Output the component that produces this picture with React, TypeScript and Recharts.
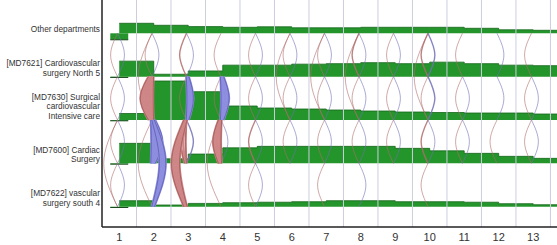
import { ComposedChart, XAxis, YAxis, Area, Line, ReferenceLine } from "recharts";

const FONT = "'Liberation Sans', Arial, sans-serif";

// lanes, bottom (0) to top (4)
const laneLabels: string[][] = [
  ["[MD7622] vascular", "surgery south 4"],
  ["[MD7600] Cardiac", "Surgery"],
  ["[MD7630] Surgical", "cardiovascular", "Intensive care"],
  ["[MD7621] Cardiovascular", "surgery North 5"],
  ["Other departments"],
];

const steps = [1, 2, 3, 4, 5, 6, 7, 8, 9, 10, 11, 12, 13];

// patients present per step
const vascularCensus = [6, 1.7, 3.3, 4, 4.5, 5, 6, 6, 5, 5, 4.5, 3, 2];
const cardiacCensus = [20, 4.5, 9.3, 15.5, 17, 17, 17, 17, 15, 12.5, 10, 7, 5];
const icuCensus = [6.5, 39, 28.3, 14, 12, 11, 10, 9, 8, 7.5, 7, 7, 6];
const north5Census = [15.5, 2.4, 5.7, 11.5, 11.5, 12.5, 13, 14, 13, 14.5, 13, 11.5, 11];
const otherCensus = [10, 8, 6.7, 6, 6.5, 5.5, 5.5, 6, 6, 6, 5, 3.5, 3];
// waiting before step 1
const admissions = [0.8, 0.8, 0.8, 0.8, 6.5];

// [step, from lane, to lane, patients]
const transfers: [number, number, number, number][] = [
  [1, 4, 3, 1], [1, 3, 4, 1], [1, 3, 2, 1], [1, 2, 3, 1], [1, 2, 1, 1], [1, 1, 2, 1], [1, 1, 0, 1], [1, 0, 1, 1], [1, 2, 0, 1],
  [2, 4, 3, 1], [2, 4, 2, 1], [2, 3, 4, 1], [2, 3, 2, 8], [2, 1, 2, 7], [2, 0, 2, 4], [2, 2, 0, 1],
  [3, 4, 3, 2], [3, 3, 4, 1], [3, 2, 3, 4], [3, 3, 2, 1], [3, 2, 1, 3], [3, 2, 0, 5], [3, 1, 2, 2],
  [4, 4, 3, 1], [4, 2, 3, 5], [4, 3, 2, 1], [4, 2, 1, 5], [4, 1, 2, 1], [4, 2, 0, 1],
  [5, 4, 3, 1], [5, 3, 4, 1], [5, 3, 2, 1], [5, 2, 3, 1], [5, 2, 1, 2], [5, 1, 2, 1], [5, 1, 0, 1], [5, 0, 1, 1],
  [6, 4, 3, 1], [6, 3, 4, 1], [6, 3, 2, 1], [6, 2, 3, 1], [6, 2, 1, 1], [6, 1, 2, 1], [6, 4, 2, 1],
  [7, 4, 3, 1], [7, 3, 4, 1], [7, 3, 2, 1], [7, 2, 3, 1], [7, 2, 1, 1], [7, 1, 2, 1], [7, 1, 0, 1], [7, 4, 2, 1],
  [8, 4, 3, 2], [8, 3, 4, 1], [8, 3, 2, 1], [8, 2, 3, 1], [8, 2, 1, 1], [8, 1, 2, 1], [8, 0, 1, 1], [8, 4, 2, 1],
  [9, 4, 3, 1], [9, 3, 4, 1], [9, 3, 2, 1], [9, 2, 3, 1], [9, 2, 1, 1], [9, 1, 2, 1],
  [10, 4, 3, 2], [10, 3, 4, 2], [10, 3, 2, 1], [10, 2, 3, 2], [10, 2, 1, 2], [10, 1, 2, 1], [10, 1, 0, 1], [10, 4, 2, 1],
  [11, 4, 3, 1], [11, 3, 2, 1], [11, 2, 3, 1], [11, 2, 1, 1], [11, 1, 2, 1],
  [12, 3, 4, 1], [12, 2, 3, 1], [12, 2, 1, 1],
  [13, 4, 3, 1], [13, 3, 2, 1], [13, 2, 3, 1], [13, 2, 1, 1], [13, 1, 2, 1],
];

const censusByLane = [vascularCensus, cardiacCensus, icuCensus, north5Census, otherCensus];

const PATIENT = 1 / 43.35; // lane units per patient
const PX_PER_STEP = 34.5;
const BAND_PX = 1.6; // band width per patient
const gridX = steps.map((s) => s + 0.5);

function laneData(lane: number, census: number[]) {
  const pts = steps.map((t, i) => ({ x: t, y: lane + census[i] * PATIENT }));
  pts.push({ x: 14, y: pts[pts.length - 1].y });
  return pts;
}

function admissionData(lane: number) {
  const y = lane - admissions[lane] * PATIENT;
  return [{ x: steps[0] - 0.26, y }, { x: steps[0] + 0.26, y }];
}

function arc(xEnd: number, xMid: number, from: number, to: number) {
  return [
    { x: xEnd, y: from },
    { x: xMid, y: (from + to) / 2 },
    { x: xEnd, y: to },
  ];
}

// thin transfer: single bent curve, down bends left, up bends right
function flowData(step: number, from: number, to: number) {
  const side = from > to ? -1 : 1;
  const x0 = step - 0.05;
  return arc(x0, x0 + side * 0.2 * Math.abs(from - to), from, to);
}

// wide transfer: lens filled with strands
function bandStrands(step: number, from: number, to: number, count: number) {
  const side = from > to ? -1 : 1;
  const span = Math.abs(from - to);
  const x0 = step - 0.05;
  const w = (count * BAND_PX) / PX_PER_STEP;
  const endW = w * 0.4;
  const cEnd = x0 + side * 0.03;
  const cMid = x0 + side * (0.06 + 0.2 * (span - 1) + w * 0.25);
  const n = Math.max(3, Math.round((count * BAND_PX) / 1.4));
  const out = [];
  for (let j = 0; j < n; j++) {
    const f = j / (n - 1) - 0.5;
    out.push(arc(cEnd + f * endW, cMid + f * w, from, to));
  }
  return out;
}

function LaneTick(props: any) {
  const { x, y, payload } = props;
  const lines = laneLabels[payload.value] || [];
  const n = lines.length;
  return (
    <text x={x} y={y} textAnchor="end" fontSize={8.3} fontFamily={FONT} fill="#333">
      {lines.map((l, i) => (
        <tspan key={i} x={x} y={y - 1 - (n - 1 - i) * 9.6}>
          {l}
        </tspan>
      ))}
    </text>
  );
}

export default function App() {
  const thin = transfers.filter((f) => f[3] < 3);
  const bands = transfers.filter((f) => f[3] >= 3);
  return (
    <div style={{ position: "absolute", left: 0, top: 0, width: 557, height: 245, background: "#fff" }}>
      <ComposedChart width={557} height={245} margin={{ top: 0, right: 0, bottom: 0, left: 0 }}>
        <XAxis
          type="number"
          dataKey="x"
          domain={[0.5, 13.69]}
          ticks={steps}
          interval={0}
          allowDataOverflow
          height={18}
          tickLine={false}
          tickSize={0}
          tickMargin={6}
          axisLine={{ stroke: "#222", strokeWidth: 1.5 }}
          tick={{ fontSize: 11, fill: "#333", fontFamily: FONT }}
        />
        <YAxis
          type="number"
          domain={[-0.468, 4.768]}
          ticks={[0, 1, 2, 3, 4]}
          interval={0}
          allowDataOverflow
          width={102}
          tickLine={false}
          tickSize={0}
          tickMargin={2}
          axisLine={{ stroke: "#222", strokeWidth: 1.5 }}
          tick={(p: any) => <LaneTick {...p} />}
        />
        {gridX.map((g) => (
          <ReferenceLine key={"g" + g} x={g} stroke="#cdcde0" strokeWidth={1} />
        ))}
        {thin.map(([s, a, b, c], i) => (
          <Line
            key={"t" + i}
            data={flowData(s, a, b)}
            dataKey="y"
            type="natural"
            stroke={a > b ? "#b06c6c" : "#7070b6"}
            strokeWidth={c * 0.7}
            strokeOpacity={0.85}
            dot={false}
            activeDot={false}
            isAnimationActive={false}
          />
        ))}
        {bands.flatMap(([s, a, b, c], i) => {
          const strands = bandStrands(s, a, b, c);
          const fill = a > b ? "#cf8686" : "#8e8ee0";
          const edge = a > b ? "#9a5252" : "#5656aa";
          return strands
            .map((d, j) => (
              <Line
                key={"bf" + i + "-" + j}
                data={d}
                dataKey="y"
                type="natural"
                stroke={fill}
                strokeWidth={2.2}
                dot={false}
                activeDot={false}
                isAnimationActive={false}
              />
            ))
            .concat(
              [strands[0], strands[strands.length - 1]].map((d, j) => (
                <Line
                  key={"be" + i + "-" + j}
                  data={d}
                  dataKey="y"
                  type="natural"
                  stroke={edge}
                  strokeWidth={0.7}
                  dot={false}
                  activeDot={false}
                  isAnimationActive={false}
                />
              ))
            );
        })}
        {censusByLane.map((_, lane) => (
          <Area
            key={"a" + lane}
            data={admissionData(lane)}
            dataKey="y"
            type="linear"
            baseValue={lane}
            fill="#23952b"
            fillOpacity={1}
            stroke="#1b4a1e"
            strokeWidth={1}
            dot={false}
            activeDot={false}
            isAnimationActive={false}
          />
        ))}
        {censusByLane.map((census, lane) => (
          <Area
            key={"l" + lane}
            data={laneData(lane, census)}
            dataKey="y"
            type="stepAfter"
            baseValue={lane}
            fill="#23952b"
            fillOpacity={1}
            stroke="#16671c"
            strokeWidth={0.8}
            dot={false}
            activeDot={false}
            isAnimationActive={false}
          />
        ))}
      </ComposedChart>
    </div>
  );
}
